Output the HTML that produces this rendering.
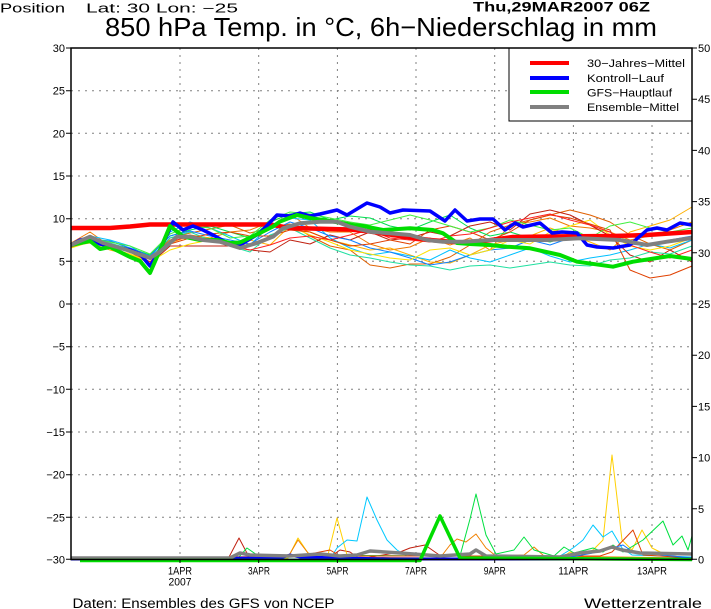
<!DOCTYPE html>
<html><head><meta charset="utf-8">
<style>
html,body{margin:0;padding:0;background:#fff;}
svg{display:block;}
text{font-family:"Liberation Sans",sans-serif;fill:#000;}
</style></head>
<body>
<svg width="711" height="609" viewBox="0 0 711 609" xmlns="http://www.w3.org/2000/svg">
<rect width="711" height="609" fill="#fff"/>

<!-- titles -->
<text x="0" y="12.5" font-size="12.5" textLength="65" lengthAdjust="spacingAndGlyphs">Position</text>
<text x="86" y="12.5" font-size="12.5" textLength="152" lengthAdjust="spacingAndGlyphs">Lat: 30 Lon: −25</text>
<text x="473" y="11.5" font-size="14" font-weight="bold" textLength="177" lengthAdjust="spacingAndGlyphs">Thu,29MAR2007 06Z</text>
<text x="105" y="36" font-size="26" textLength="552" lengthAdjust="spacingAndGlyphs">850 hPa Temp. in °C, 6h−Niederschlag in mm</text>

<!-- grid -->
<g stroke="#808080" stroke-width="1" stroke-dasharray="2 5" fill="none">
<path d="M71 90.7H692M71 133.3H692M71 176H692M71 218.7H692M71 261.3H692M71 304H692M71 346.7H692M71 389.3H692M71 432H692M71 474.7H692M71 517.3H692"/>
<path d="M180 48V559M258.7 48V559M337.4 48V559M416 48V559M494.7 48V559M573.4 48V559M652 48V559"/>
</g>

<!-- ensemble members temperature -->
<g fill="none" stroke-width="1" stroke-linejoin="round">
<polyline stroke="#f07800" points="71,243 90,232 110,246 130,250 150,262 170,240 190,235 210,238 230,232 250,230 270,222 290,214 310,228 330,232 350,232 370,244 390,250 410,247 430,238 450,245 470,238 490,250 510,224 530,222 550,218 570,226 590,228 610,232 630,240 650,236 670,230 692,222"/>
<polyline stroke="#e06000" points="71,247 90,240 110,245 130,252 150,264 170,238 190,233 210,229 230,225 250,233 270,228 290,224 310,236 330,246 350,250 370,265 390,268 410,264 430,264 450,257 470,245 490,232 510,225 530,220 550,215 570,210 590,215 610,222 630,235 650,244 670,250 692,240"/>
<polyline stroke="#ffb000" points="71,246 90,243 110,250 130,255 150,262 170,243 190,236 210,238 230,243 250,240 270,245 290,226 310,232 330,240 350,245 370,250 390,248 410,255 430,262 450,263 470,255 490,245 510,240 530,236 550,228 570,235 590,242 610,250 630,232 650,226 670,220 692,207"/>
<polyline stroke="#00c0ff" points="71,244 90,236 110,240 130,246 150,258 170,232 190,222 210,228 230,236 250,245 270,226 290,218 310,220 330,238 350,248 370,255 390,252 410,256 430,260 450,250 470,258 490,262 510,255 530,248 550,256 570,262 590,258 610,255 630,250 650,244 670,248 692,240"/>
<polyline stroke="#00e050" points="71,245 90,238 110,244 130,248 150,255 170,236 190,230 210,226 230,232 250,238 270,222 290,214 310,212 330,220 350,216 370,218 390,226 410,230 430,222 450,215 470,228 490,236 510,232 530,238 550,242 570,236 590,235 610,238 630,236 650,234 670,232 692,232"/>
<polyline stroke="#c02010" points="71,246 90,240 110,246 130,250 150,264 170,246 190,246 210,246 230,246 250,250 270,252 290,240 310,244 330,235 350,240 370,232 390,240 410,238 430,232 450,236 470,226 490,222 510,230 530,214 550,210 570,215 590,225 610,236 630,255 650,262 670,250 692,262"/>
<polyline stroke="#20e0a0" points="71,244 90,237 110,243 130,249 150,258 170,238 190,232 210,240 230,246 250,252 270,235 290,228 310,238 330,248 350,255 370,258 390,262 410,265 430,266 450,270 470,266 490,265 510,268 530,265 550,262 570,265 590,266 610,260 630,258 650,252 670,254 692,246"/>
<polyline stroke="#1080ff" points="71,245 90,239 110,241 130,248 150,256 170,236 190,231 210,236 230,240 250,244 270,232 290,222 310,228 330,236 350,240 370,248 390,252 410,258 430,265 450,262 470,255 490,250 510,248 530,240 550,245 570,238 590,240 610,236 630,244 650,246 670,240 692,236"/>
<polyline stroke="#ffe000" points="71,248 90,242 110,248 130,254 150,262 170,250 190,244 210,240 230,242 250,246 270,238 290,226 310,235 330,242 350,250 370,254 390,258 410,260 430,250 450,248 470,255 490,250 510,240 530,244 550,232 570,226 590,220 610,235 630,246 650,250 670,246 692,238"/>
<polyline stroke="#e04000" points="71,247 90,241 110,247 130,250 150,262 170,244 190,238 210,234 230,232 250,236 270,236 290,230 310,232 330,240 350,246 370,244 390,240 410,244 430,230 450,226 470,232 490,240 510,232 530,220 550,215 570,218 590,224 610,230 630,270 650,278 670,275 692,266"/>
<polyline stroke="#40f040" points="71,244 90,238 110,242 130,246 150,254 170,234 190,226 210,228 230,238 250,236 270,220 290,212 310,214 330,218 350,222 370,225 390,220 410,215 430,220 450,226 470,232 490,228 510,220 530,225 550,230 570,228 590,238 610,226 630,222 650,228 670,232 692,228"/>
<polyline stroke="#ff2020" points="71,246 90,241 110,246 130,250 150,262 170,242 190,236 210,240 230,246 250,250 270,245 290,238 310,236 330,240 350,235 370,230 390,238 410,240 430,242 450,236 470,234 490,228 510,222 530,218 550,214 570,220 590,225 610,232 630,245 650,252 670,258 692,250"/>
</g>

<!-- precipitation members -->
<g fill="none" stroke-width="1" stroke-linejoin="round">
<polyline stroke="#c02010" points="71,559 228,559 239,538 249,557 330,557 340,550 350,552 360,559 400,552 410,548 425,545 435,552 445,559 692,559"/>
<polyline stroke="#ffd000" points="71,559 288,558 298,538 308,553 318,557 327,559 337,518 347,555 357,559 560,559 570,552 580,556 593,550 603,540 612,455 622,540 632,550 642,530 652,548 662,553 672,556 692,558"/>
<polyline stroke="#00c8ff" points="71,559 330,559 337,548 347,540 357,541 367,497 377,520 387,540 397,550 407,556 560,556 573,548 583,540 593,525 603,537 612,531 622,548 632,555 692,557"/>
<polyline stroke="#f08000" points="71,559 288,557 298,540 308,553 318,557 440,558 450,545 457,539 466,542 476,534 486,548 496,556 524,555 534,547 544,556 692,558"/>
<polyline stroke="#00e040" points="71,559 238,558 247,548 257,555 460,556 470,519 476,494 486,535 496,554 514,550 524,537 534,550 554,556 564,547 574,553 593,548 603,552 613,545 623,552 643,540 663,521 673,545 682,536 688,550 692,536"/>
<polyline stroke="#e04000" points="71,559 300,556 330,550 340,556 600,556 612,552 633,530 643,555 692,558"/>
<polyline stroke="#1070ff" points="71,559 560,559 593,553 612,548 623,545 633,552 692,558"/>
</g>

<!-- precip thick -->
<polyline fill="none" stroke="#0000ff" stroke-width="3" points="71,559 280,558 290,555 300,557 390,559 692,559"/>
<polyline fill="none" stroke="#808080" stroke-width="3.5" stroke-linejoin="round" points="71,558 230,558 240,553 250,555 290,556 320,554 340,556 357,555 370,551 400,553 440,556 470,554 476,550 486,556 560,557 580,553 600,551 612,547 622,550 640,553 692,554"/>
<polyline fill="none" stroke="#00dd00" stroke-width="3.5" stroke-linejoin="round" points="80,560.5 420,560.5 440,516 460,558 692,559.5"/>

<!-- main thick temperature series -->
<polyline fill="none" stroke="#ff0000" stroke-width="4.5" stroke-linejoin="round" points="71,228 110,228 130,226.5 150,224.5 270,224.5 290,228 350,229.5 370,231.5 403,236.5 430,240 460,242.5 480,241.5 513,237 547,236.5 613,236 647,235 692,232"/>
<polyline fill="none" stroke="#0000ff" stroke-width="3.5" stroke-linejoin="round" points="71,245 80,240 90,238 100,244 115,247 130,250 140,254 150,266 160,250 173,222 183,230 193,226 203,230 215,236 227,243 240,245 260,233 277,215 290,216 300,213 310,216 320,214 337,210 347,215 367,203 380,207 390,213 403,210 430,211 445,221 455,210 467,221 480,219 493,219 505,230 515,223 523,227 540,223 552,233 562,232 577,233 587,245 597,247 613,248 630,245 647,230 657,228 667,230 680,223 692,225"/>
<polyline fill="none" stroke="#00dd00" stroke-width="4" stroke-linejoin="round" points="71,245 90,241 100,249 110,247 130,257 140,261 150,273 160,250 170,226 183,236.5 200,240 217,240 230,243 240,242.5 260,233 273,226.5 280,221.5 297,215 310,218 333,221.5 353,225 363,226 383,230 410,228.3 433,230 443,233.3 457,243 470,244 490,245 507,246.7 530,248.3 560,255 577,261.7 613,266.7 633,261.7 670,256 692,259"/>
<polyline fill="none" stroke="#808080" stroke-width="4" stroke-linejoin="round" points="71,245 90,236.7 103,243 127,250 150,258 160,251.7 177,236.7 190,236.7 203,240 220,241.7 240,248 257,243 273,236.7 283,228.3 300,223.3 320,221.7 337,221.7 350,226.7 370,231.7 390,233.3 410,235 427,240 443,241.7 463,241.7 490,240 513,240 547,240 580,238.3 620,240 647,245 667,241.7 692,238"/>

<!-- legend -->
<rect x="509" y="48" width="183" height="73" fill="#fff" stroke="#000" stroke-width="1"/>
<g stroke-width="4">
<line x1="530" y1="63" x2="569" y2="63" stroke="#ff0000"/>
<line x1="530" y1="78" x2="569" y2="78" stroke="#0000ff"/>
<line x1="530" y1="92" x2="569" y2="92" stroke="#00dd00"/>
<line x1="530" y1="107" x2="569" y2="107" stroke="#808080"/>
</g>
<g font-size="11">
<text x="587" y="67" textLength="98" lengthAdjust="spacingAndGlyphs">30−Jahres−Mittel</text>
<text x="587" y="82" textLength="77" lengthAdjust="spacingAndGlyphs">Kontroll−Lauf</text>
<text x="587" y="96.5" textLength="85" lengthAdjust="spacingAndGlyphs">GFS−Hauptlauf</text>
<text x="587" y="111" textLength="92" lengthAdjust="spacingAndGlyphs">Ensemble−Mittel</text>
</g>

<!-- frame -->
<path d="M71 48H692V559.5H71Z" fill="none" stroke="#000" stroke-width="1.5"/>

<!-- ticks -->
<g stroke="#000" stroke-width="1">
<path d="M66 48H71M66 90.7H71M66 133.3H71M66 176H71M66 218.7H71M66 261.3H71M66 304H71M66 346.7H71M66 389.3H71M66 432H71M66 474.7H71M66 517.3H71M66 559.3H71"/>
<path d="M692 48H697M692 99.2H697M692 150.4H697M692 201.6H697M692 252.8H697M692 304H697M692 355.2H697M692 406.4H697M692 457.6H697M692 508.8H697M692 559.3H697"/>
<path d="M180 559V563M258.7 559V563M337.4 559V563M416 559V563M494.7 559V563M573.4 559V563M652 559V563"/>
</g>
<g font-size="11" text-anchor="end">
<text x="65" y="52">30</text>
<text x="65" y="94.7">25</text>
<text x="65" y="137.3">20</text>
<text x="65" y="180">15</text>
<text x="65" y="222.7">10</text>
<text x="65" y="265.3">5</text>
<text x="65" y="308">0</text>
<text x="65" y="350.7">−5</text>
<text x="65" y="393.3">−10</text>
<text x="65" y="436">−15</text>
<text x="65" y="478.7">−20</text>
<text x="65" y="521.3">−25</text>
<text x="65" y="563.3">−30</text>
</g>
<g font-size="11">
<text x="698" y="52">50</text>
<text x="698" y="103.2">45</text>
<text x="698" y="154.4">40</text>
<text x="698" y="205.6">35</text>
<text x="698" y="256.8">30</text>
<text x="698" y="308">25</text>
<text x="698" y="359.2">20</text>
<text x="698" y="410.4">15</text>
<text x="698" y="461.6">10</text>
<text x="698" y="512.8">5</text>
<text x="698" y="563.3">0</text>
</g>

<!-- date labels -->
<g font-size="11" text-anchor="middle">
<text x="180" y="574.5" textLength="24" lengthAdjust="spacingAndGlyphs">1APR</text>
<text x="180" y="585.5" textLength="23" lengthAdjust="spacingAndGlyphs">2007</text>
<text x="259" y="574.5" textLength="22" lengthAdjust="spacingAndGlyphs">3APR</text>
<text x="337.5" y="574.5" textLength="22" lengthAdjust="spacingAndGlyphs">5APR</text>
<text x="416" y="574.5" textLength="22" lengthAdjust="spacingAndGlyphs">7APR</text>
<text x="494.7" y="574.5" textLength="22" lengthAdjust="spacingAndGlyphs">9APR</text>
<text x="573.4" y="574.5" textLength="30" lengthAdjust="spacingAndGlyphs">11APR</text>
<text x="652" y="574.5" textLength="30" lengthAdjust="spacingAndGlyphs">13APR</text>
</g>

<!-- footer -->
<text x="72.5" y="608" font-size="13.5" textLength="262" lengthAdjust="spacingAndGlyphs">Daten: Ensembles des GFS von NCEP</text>
<text x="584" y="608" font-size="14" textLength="118" lengthAdjust="spacingAndGlyphs">Wetterzentrale</text>
</svg>
</body></html>
